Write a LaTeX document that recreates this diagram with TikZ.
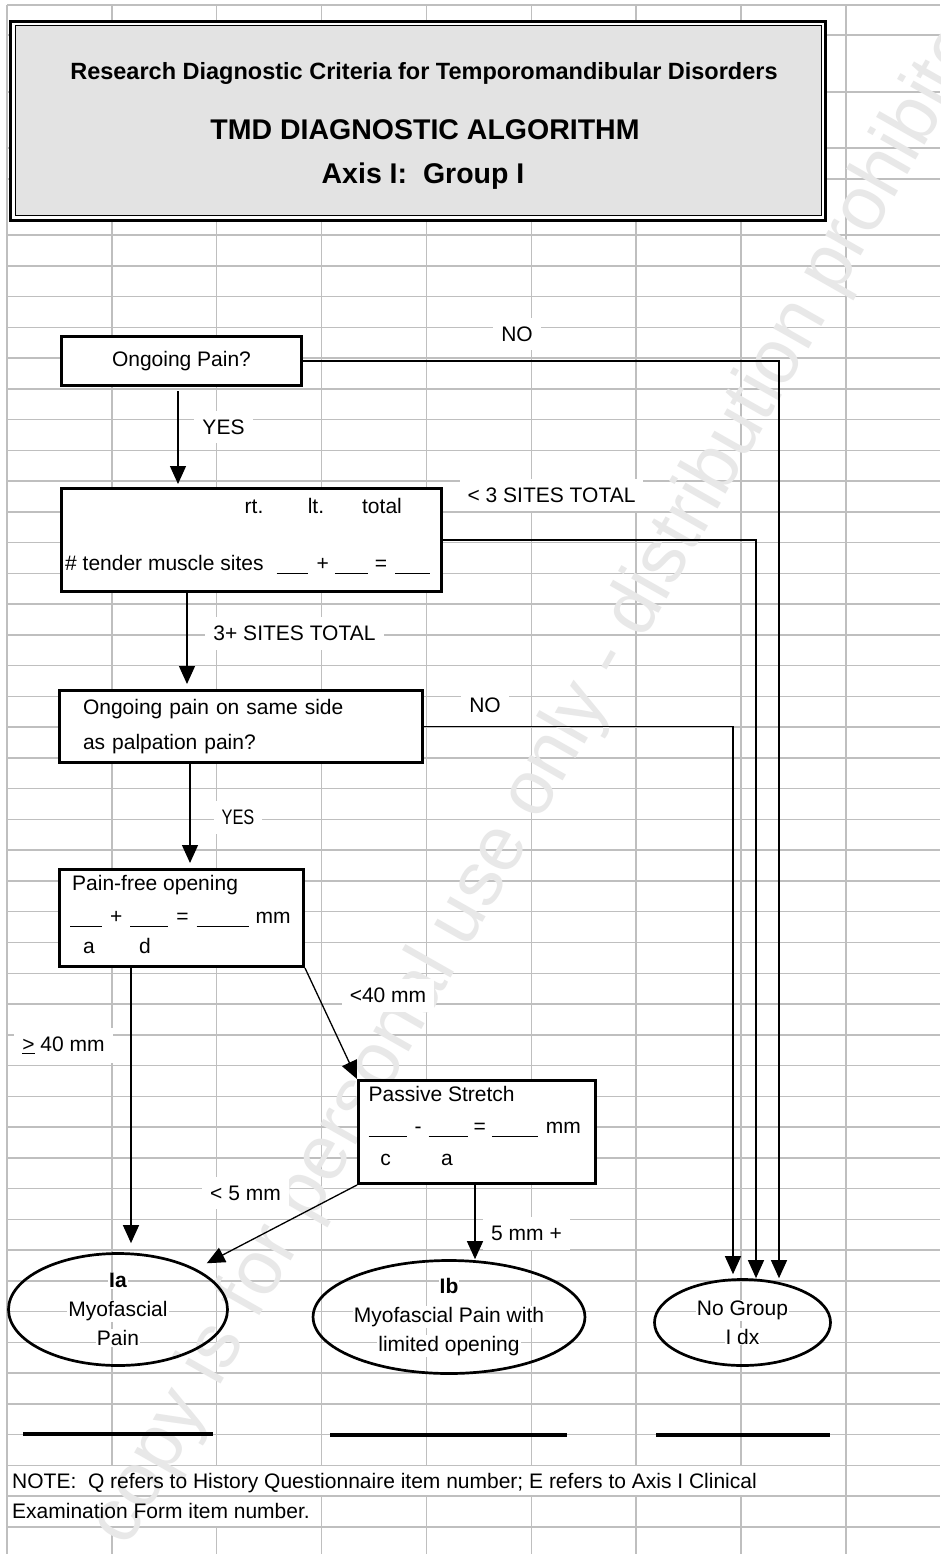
\documentclass[tikz,border=0pt]{standalone}
\usepackage{fontspec}
\setmainfont{Liberation Sans}
\usepackage{tikz}
\usetikzlibrary{arrows.meta, positioning, shapes.geometric}
\newcommand{\blank}[1]{\rule[-4pt]{#1}{1.3pt}}
\newcommand{\wbox}[1]{{\setlength{\fboxsep}{1pt}\colorbox{white}{#1}}}

\begin{document}
\begin{tikzpicture}[
  x=1pt, y=-1pt,
  font=\fontsize{21}{29}\selectfont,
  gridline/.style={draw=gray!50, line width=1.5pt},
  box/.style={rectangle, draw, line width=3pt, fill=white, inner sep=0pt},
  oval/.style={ellipse, draw, line width=2.7pt, inner sep=0pt, align=center},
  lbl/.style={fill=white, inner xsep=8pt, inner ysep=9pt},
  txt/.style={inner sep=0pt},
  arrow/.style={-{Triangle[length=18pt,width=16pt]}, line width=1.3pt}
]
  \path[use as bounding box, fill=white] (0,0) rectangle (940,1554);

  % 网格
  \foreach \k in {5,35,92,148,179}
    \draw[gridline] (7,\k) -- (940,\k);
  \foreach \k in {0,...,42}
    \draw[gridline] (7,{235+30.76*\k}) -- (940,{235+30.76*\k});
  \foreach \i in {0,...,8} {
    \draw[gridline] ({7+104.85*\i},5) -- ({7+104.85*\i},1465);
    \draw[gridline] ({7+104.85*\i},1527) -- ({7+104.85*\i},1554);
  }
  \foreach \i in {0,8}
    \draw[gridline] ({7+104.85*\i},1465) -- ({7+104.85*\i},1496);
  \foreach \i in {0,3,4,...,8}
    \draw[gridline] ({7+104.85*\i},1496) -- ({7+104.85*\i},1527);

  % 水印
  \begin{scope}
    \clip (0,0) rectangle (940,1554);
    \node[rotate=60.4, text=gray!18, font=\fontsize{77}{80}\selectfont] (mark) at (549,766)
      {copy is for personal use only - distribution prohibited};
  \end{scope}

  % 标题
  \node[rectangle, draw, line width=3pt, fill=white, minimum width=815pt, minimum height=199pt] (hdr) at (418,121) {};
  \draw[line width=1pt, fill=gray!22] ([xshift=6pt,yshift=-6pt]hdr.north west) rectangle ([xshift=-6pt,yshift=6pt]hdr.south east);
  \node[txt, anchor=base, font=\fontsize{23.5}{28}\selectfont\bfseries] (rdc) at (424,80) {Research Diagnostic Criteria for Temporomandibular Disorders};
  \node[txt, anchor=base, font=\fontsize{28.5}{34}\selectfont\bfseries] (tmd) at (425,140) {TMD DIAGNOSTIC ALGORITHM};
  \node[txt, anchor=base, font=\fontsize{28.5}{34}\selectfont\bfseries] (axis) at (423,184) {Axis I:\ \ Group I};

  % 判断框
  \node[box, minimum width=240pt, minimum height=49pt] (pain) at (181.5,361) {Ongoing Pain?};

  \node[box, minimum width=380pt, minimum height=103pt] (sites) at (251.5,540) {};
  \node[txt, anchor=base] (rt) at (254,513) {rt.};
  \node[txt, anchor=base] (lt) at (316,513) {lt.};
  \node[txt, anchor=base] (tot) at (382,513) {total};
  \node[txt, anchor=base west] (tender) at (65,570) {\# tender muscle sites\hspace{13pt}\blank{31pt}\hspace{9pt}+\hspace{6pt}\blank{33pt}\hspace{7pt}=\hspace{8pt}\blank{35pt}};

  \node[box, minimum width=363pt, minimum height=72pt, text width=316pt, align=left,
        font=\fontsize{21}{35.5}\selectfont] (same) at (241,726.5) {Ongoing pain on same side\\as palpation pain?};

  \node[box, minimum width=244pt, minimum height=97pt] (pf) at (181.5,918) {};
  \node[txt, anchor=base west] (pftxt) at (72,890) {Pain-free opening};
  \node[txt, anchor=base west] (pfsum) at (70,923) {\blank{32pt}\hspace{8pt}+\hspace{8pt}\blank{38pt}\hspace{8pt}=\hspace{8pt}\blank{52pt}\hspace{7pt}mm};
  \node[txt, anchor=base] (pfa) at (89,953) {a};
  \node[txt, anchor=base] (pfd) at (145,953) {d};

  \node[box, minimum width=237pt, minimum height=103pt] (ps) at (477,1132) {};
  \node[txt, anchor=base west] (pstxt) at (368.5,1101) {Passive Stretch};
  \node[txt, anchor=base west] (psdiff) at (368.5,1133) {\blank{38pt}\hspace{8pt}-\hspace{7pt}\blank{39pt}\hspace{6pt}=\hspace{6pt}\blank{46pt}\hspace{8pt}mm};
  \node[txt, anchor=base] (psc) at (385.5,1165) {c};
  \node[txt, anchor=base] (psa) at (447,1165) {a};

  % 诊断结果
  \node[oval, minimum width=219pt, minimum height=112pt] (ia) at (118,1309.5)
    {\wbox{\textbf{Ia}}\\\wbox{Myofascial}\\\wbox{Pain}};
  \node[oval, minimum width=271pt, minimum height=113pt] (ib) at (449,1317)
    {\wbox{\textbf{Ib}}\\\wbox{Myofascial Pain with}\\\wbox{limited opening}};
  \node[oval, minimum width=176pt, minimum height=86pt] (nogrp) at (742.5,1322.5)
    {\wbox{No Group}\\\wbox{I dx}};

  % 标签
  \node[lbl] (no1) at (517,334) {NO};
  \node[lbl] (yes1) at (223.5,427) {YES};
  \node[lbl] (few) at (551.5,495) {< 3 SITES TOTAL};
  \node[lbl] (many) at (294.5,633.5) {3+ SITES TOTAL};
  \node[lbl] (no2) at (485,705.5) {NO};
  \node[lbl] (yes2) at (238,817.5) {\scalebox{0.78}[1]{YES}};
  \node[lbl] (narrow) at (388,995.5) {<40 mm};
  \node[lbl] (wide) at (63.5,1045.5) {\underline{>} 40 mm};
  \node[lbl] (small) at (245.5,1193) {< 5 mm};
  \node[lbl] (large) at (526.5,1233.5) {5 mm +};

  % 箭头
  \coordinate (xyes) at (178,0);
  \coordinate (xthree) at (187,0);
  \coordinate (xyes2) at (190,0);
  \coordinate (xfree) at (131,0);
  \coordinate (xfive) at (475,0);
  \coordinate (xno1) at (779,0);
  \coordinate (xno2) at (756,0);
  \coordinate (xno3) at (733,0);

  \draw[arrow, shorten <=4pt, shorten >=3pt] (pain.south -| xyes) -- (sites.north -| xyes);
  \draw[arrow, shorten >=5pt] (sites.south -| xthree) -- (same.north -| xthree);
  \draw[arrow, shorten >=5pt] (same.south -| xyes2) -- (pf.north -| xyes2);
  \draw[arrow, shorten >=9pt] (pf.south -| xfree) -- (ia.north -| xfree);
  \draw[arrow] (pf.south east) -- (ps.north west);
  \draw[arrow, shorten >=12pt] (ps.south west) -- (ia);
  \draw[arrow] (ps.south -| xfive) -- (ib.north -| xfive);

  \draw[arrow] (pain.east) -| (nogrp.north -| xno1);
  \draw[arrow] (sites.east) -| (nogrp.north -| xno2);
  \draw[arrow, shorten >=4pt] (same.east) -| (nogrp.north -| xno3);

  % 签名线
  \draw[line width=3.5pt] (23,1434) -- (213,1434);
  \draw[line width=3.5pt] (330,1435) -- (567,1435);
  \draw[line width=3.5pt] (656,1435) -- (830,1435);

  % 注释
  \node[txt, anchor=base west] (note) at (12,1488) {NOTE:\ \ Q refers to History Questionnaire item number; E refers to Axis I Clinical};
  \node[txt, anchor=base west] (note2) at (12,1518) {Examination Form item number.};

\end{tikzpicture}
\end{document}
